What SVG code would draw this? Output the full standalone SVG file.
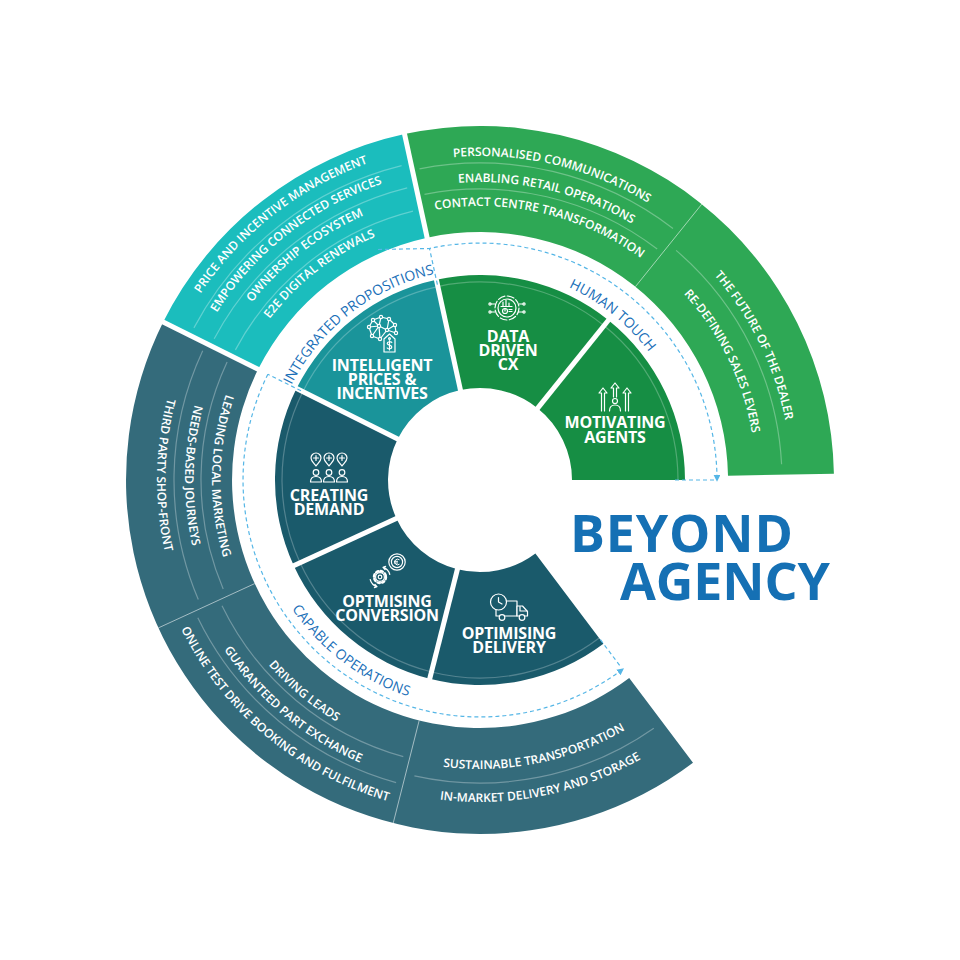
<svg xmlns="http://www.w3.org/2000/svg" width="960" height="960" viewBox="0 0 960 960">
<defs>
<style>
.ot{font-family:"Open Sans","Liberation Sans",sans-serif;font-size:12px;font-weight:600;fill:#fff;}
.il{font-family:"Open Sans","Liberation Sans",sans-serif;font-size:16px;font-weight:700;fill:#fff;text-anchor:middle;letter-spacing:-0.2px;}
.lb{font-family:"Open Sans","Liberation Sans",sans-serif;font-size:14px;font-weight:400;fill:#1a6fb8;}
.sep{fill:none;stroke:#fff;stroke-opacity:.3;stroke-width:1.2;}
.div{stroke:#fff;stroke-opacity:.55;stroke-width:1;}
.gap{stroke:#fff;stroke-width:5;}
.ic{fill:none;stroke:#fff;stroke-width:1.2;stroke-linecap:round;stroke-linejoin:round;}
.dash{fill:none;stroke:#55b6e6;stroke-width:1.2;stroke-dasharray:4 3;}
.big{font-family:"Open Sans","Liberation Sans",sans-serif;font-size:52px;font-weight:700;fill:#1570b4;}
</style>
<marker id="ah" viewBox="0 0 8 8" refX="6" refY="4" markerWidth="7" markerHeight="7" markerUnits="userSpaceOnUse" orient="auto"><path d="M0,0 L8,4 L0,8 z" fill="#55b6e6"/></marker>
<path id="g1" d="M 411.0 163.5 A 324 324 0 0 1 683.0 227.5"/>
<path id="g2" d="M 416.5 188.9 A 298 298 0 0 1 666.7 247.8"/>
<path id="g3" d="M 421.6 212.3 A 274 274 0 0 1 651.7 266.5"/>
<path id="t1" d="M 179.3 330.1 A 336 336 0 0 1 408.4 151.7"/>
<path id="t2" d="M 200.8 340.8 A 312 312 0 0 1 413.5 175.2"/>
<path id="t3" d="M 221.4 351.1 A 289 289 0 0 1 418.4 197.6"/>
<path id="t4" d="M 242.9 361.8 A 265 265 0 0 1 423.6 221.1"/>
<path id="r1" d="M 674.9 237.6 A 311 311 0 0 1 791.0 474.6"/>
<path id="r2" d="M 652.9 264.9 A 276 276 0 0 1 756.0 475.2"/>
<path id="l1" d="M 240.2 360.4 A 268 268 0 0 0 236.5 592.0"/>
<path id="l2" d="M 216.0 348.4 A 295 295 0 0 0 212.0 603.3"/>
<path id="l3" d="M 190.9 335.9 A 323 323 0 0 0 186.5 615.0"/>
<path id="b1" d="M 224.7 597.4 A 281 281 0 0 0 411.1 752.4"/>
<path id="b2" d="M 201.1 608.3 A 307 307 0 0 0 404.7 777.6"/>
<path id="b3" d="M 176.6 619.6 A 334 334 0 0 0 398.1 803.8"/>
<path id="s1" d="M 409.1 760.2 A 289 289 0 0 0 653.9 710.8"/>
<path id="s2" d="M 401.0 792.2 A 322 322 0 0 0 673.8 737.1"/>
<path id="lbI" d="M 291.2 385.9 A 211 211 0 0 1 435.1 273.9"/>
<path id="lbH" d="M 527.7 273.4 A 212 212 0 0 1 671.5 389.1"/>
<path id="lbC" d="M 270.1 569.1 A 228 228 0 0 0 452.2 706.3"/>
</defs>
<rect width="960" height="960" fill="#fff"/>

<!-- outer ring -->
<g id="outer-dark">
<path d="M 693.0 762.7 A 354 354 0 0 1 163.2 322.0 L 258.1 369.3 A 248 248 0 0 0 629.2 678.1 Z" fill="#346b7b"/>
<line class="div" x1="419.2" y1="720.4" x2="393.2" y2="823.2"/>
<line class="div" x1="254.7" y1="583.6" x2="158.4" y2="627.9"/>
<path class="sep" d="M 227.1 362.1 A 279 279 0 0 0 223.2 589.0"/>
<path class="sep" d="M 202.7 350.7 A 306 306 0 0 0 198.3 599.6"/>
<path class="sep" d="M 222.0 605.8 A 287 287 0 0 0 403.3 756.6"/>
<path class="sep" d="M 197.8 617.7 A 314 314 0 0 0 396.1 782.6"/>
<path class="sep" d="M 414.4 775.8 A 303 303 0 0 0 653.8 728.2"/>
<text class="ot" text-anchor="middle"><textPath href="#l1" startOffset="50%">LEADING LOCAL MARKETING</textPath></text>
<text class="ot" text-anchor="middle"><textPath href="#l2" startOffset="50%">NEEDS-BASED JOURNEYS</textPath></text>
<text class="ot" text-anchor="middle"><textPath href="#l3" startOffset="50%">THIRD PARTY SHOP-FRONT</textPath></text>
<text class="ot" text-anchor="middle"><textPath href="#b1" startOffset="50%">DRIVING LEADS</textPath></text>
<text class="ot" text-anchor="middle"><textPath href="#b2" startOffset="50%">GUARANTEED PART EXCHANGE</textPath></text>
<text class="ot" text-anchor="middle"><textPath href="#b3" startOffset="50%">ONLINE TEST DRIVE BOOKING AND FULFILMENT</textPath></text>
<text class="ot" text-anchor="middle"><textPath href="#s1" startOffset="50%">SUSTAINABLE TRANSPORTATION</textPath></text>
<text class="ot" text-anchor="middle"><textPath href="#s2" startOffset="50%">IN-MARKET DELIVERY AND STORAGE</textPath></text>
</g>
<g id="outer-light">
<path d="M 163.2 322.0 A 354 354 0 0 1 404.6 134.1 L 427.2 237.7 A 248 248 0 0 0 258.1 369.3 Z" fill="#1bbdbd"/>
<path class="sep" d="M 193.9 327.9 A 324 324 0 0 1 401.6 165.6"/>
<path class="sep" d="M 214.2 338.7 A 301 301 0 0 1 407.2 187.9"/>
<path class="sep" d="M 235.4 349.9 A 277 277 0 0 1 413.0 211.2"/>
<text class="ot" text-anchor="middle"><textPath href="#t1" startOffset="50%">PRICE AND INCENTIVE MANAGEMENT</textPath></text>
<text class="ot" text-anchor="middle"><textPath href="#t2" startOffset="50%">EMPOWERING CONNECTED SERVICES</textPath></text>
<text class="ot" text-anchor="middle"><textPath href="#t3" startOffset="50%">OWNERSHIP ECOSYSTEM</textPath></text>
<text class="ot" text-anchor="middle"><textPath href="#t4" startOffset="50%">E2E DIGITAL RENEWALS</textPath></text>
</g>
<g id="outer-green">
<path d="M 404.6 134.1 A 354 354 0 0 1 833.9 473.8 L 728 475.7 A 248 248 0 0 0 427.2 237.7 Z" fill="#2ea855"/>
<line class="div" x1="635.4" y1="286.7" x2="701.8" y2="204.1"/>
<path class="sep" d="M 419.5 168.8 A 317 317 0 0 1 673.0 228.5"/>
<path class="sep" d="M 424.5 194.4 A 291 291 0 0 1 657.2 249.1"/>
<path class="sep" d="M 676.1 250.4 A 302 302 0 0 1 781.6 464.2"/>
<text class="ot" text-anchor="middle"><textPath href="#g1" startOffset="50%">PERSONALISED COMMUNICATIONS</textPath></text>
<text class="ot" text-anchor="middle"><textPath href="#g2" startOffset="50%">ENABLING RETAIL OPERATIONS</textPath></text>
<text class="ot" text-anchor="middle"><textPath href="#g3" startOffset="50%">CONTACT CENTRE TRANSFORMATION</textPath></text>
<text class="ot" text-anchor="middle"><textPath href="#r1" startOffset="50%">THE FUTURE OF THE DEALER</textPath></text>
<text class="ot" text-anchor="middle"><textPath href="#r2" startOffset="50%">RE-DEFINING SALES LEVERS</textPath></text>
</g>
<g id="outer-gaps">
<line class="gap" x1="261.6" y1="371.1" x2="159.6" y2="320.3"/>
<line class="gap" x1="428.0" y1="241.6" x2="403.7" y2="130.2"/>
</g>

<!-- inner segments -->
<g id="delivery">
<path d="M 603.4 643.7 A 205 205 0 0 1 429.7 678.7 L 457.4 569.2 A 92 92 0 0 0 535.4 553.5 Z" fill="#1a5a6b"/>
</g>
<g id="conversion">
<path d="M 429.7 678.7 A 205 205 0 0 1 293.8 565.7 L 396.4 518.4 A 92 92 0 0 0 457.4 569.2 Z" fill="#1a5a6b"/>
</g>
<g id="creating">
<path d="M 293.8 565.7 A 205 205 0 0 1 296.5 388.5 L 397.7 439.0 A 92 92 0 0 0 396.4 518.4 Z" fill="#1a5a6b"/>
</g>
<g id="intelligent">
<path d="M 296.5 388.5 A 205 205 0 0 1 436.3 279.7 L 460.4 390.1 A 92 92 0 0 0 397.7 439.0 Z" fill="#1a949a"/>
</g>
<g id="datadriven">
<path d="M 436.3 279.7 A 205 205 0 0 1 608.5 320.2 L 537.6 408.3 A 92 92 0 0 0 460.4 390.1 Z" fill="#168e44"/>
</g>
<g id="motivating">
<path d="M 608.5 320.2 A 205 205 0 0 1 685 480 L 572 480 A 92 92 0 0 0 537.6 408.3 Z" fill="#168e44"/>
</g>
<path d="M 599.2 638.1 A 198 198 0 1 1 678 480" fill="none" stroke="#fff" stroke-opacity=".25" stroke-width="1.2"/>
<g id="inner-gaps">
<line class="gap" x1="458.4" y1="565.3" x2="428.5" y2="683.6"/>
<line class="gap" x1="400.1" y1="516.8" x2="289.2" y2="567.8"/>
<line class="gap" x1="401.2" y1="440.7" x2="292.1" y2="386.3"/>
<line class="gap" x1="461.3" y1="394.0" x2="435.3" y2="274.8"/>
<line class="gap" x1="535.1" y1="411.4" x2="611.6" y2="316.3"/>
</g>

<!-- inner labels and icons -->
<g id="intelligent-label">
<g class="ic" stroke-width="1">
<path d="M369 327 L373 320 L381 317 L389 319 L395 325 L396 333 M369 327 L372 336 L380 339 L387 330 L395 325 M369 327 L379 326 L373 320 M381 317 L379 326 L387 330 L389 319 M379 326 L380 339 M372 336 L379 326 M387 330 L396 333"/>
<circle cx="369" cy="327" r="1.6" fill="#1a949a"/><circle cx="373" cy="320" r="1.6" fill="#1a949a"/><circle cx="381" cy="317" r="1.6" fill="#1a949a"/><circle cx="389" cy="319" r="1.6" fill="#1a949a"/><circle cx="395" cy="325" r="1.6" fill="#1a949a"/><circle cx="396" cy="333" r="1.6" fill="#1a949a"/><circle cx="380" cy="339" r="1.6" fill="#1a949a"/><circle cx="372" cy="336" r="1.6" fill="#1a949a"/><circle cx="379" cy="326" r="1.6" fill="#1a949a"/><circle cx="387" cy="330" r="1.6" fill="#1a949a"/>
<path d="M 384 339 L 389.5 334 L 395 339 L 395 352 L 384 352 Z" fill="#1a949a"/>
<circle cx="389.5" cy="338.5" r="0.9"/>
<path d="M 391.8 342.5 C 391 341.3 387.2 341.3 387.2 343.5 C 387.2 345.5 391.8 344.8 391.8 347 C 391.8 349.2 388 349.2 387.2 348 M 389.5 340.6 V 350"/>
</g>
<text class="il" x="382" y="371">INTELLIGENT</text>
<text class="il" x="382" y="385">PRICES &amp;</text>
<text class="il" x="382" y="399">INCENTIVES</text>
</g>
<g id="datadriven-label">
<g class="ic" stroke-width="1.1">
<circle cx="507" cy="308" r="9"/>
<circle cx="507" cy="308" r="12" stroke-dasharray="7 2.4"/>
<path d="M495 304 H491 M495 312 H491 M519 304 H523 M519 312 H523"/>
<circle cx="490" cy="304" r="1.1"/><circle cx="490" cy="312" r="1.1"/><circle cx="524" cy="304" r="1.1"/><circle cx="524" cy="312" r="1.1"/>
<path d="M503 306 V302 M506 306 V300 M509 306 V303 M501 306.5 H512"/>
<circle cx="505" cy="311" r="2.5"/>
<path d="M505 311 V308.5 M509 309.5 H512 M509 311.5 H512"/>
</g>
<text class="il" x="508" y="342">DATA</text>
<text class="il" x="508" y="356">DRIVEN</text>
<text class="il" x="508" y="370">CX</text>
</g>
<g id="motivating-label">
<g class="ic">
<path d="M601.5 411 V393 H599 L603 388 L607 393 H604.5 V411"/>
<path d="M625.5 411 V393 H623 L627 388 L631 393 H628.5 V411"/>
<path d="M613.5 397 V388 H611 L615 383 L619 388 H616.5 V397"/>
<circle cx="615" cy="401" r="2.5"/>
<path d="M609.5 411 Q609.5 405 615 405 Q620.5 405 620.5 411"/>
</g>
<text class="il" x="615" y="428">MOTIVATING</text>
<text class="il" x="615" y="442.5">AGENTS</text>
</g>
<g id="creating-label">
<g class="ic">
<path d="M311 458 a5 5 0 1 1 10 0 c0 3 -3 5 -5 8 c-2 -3 -5 -5 -5 -8 z M313.5 458 H318.5 M316 455.5 V460.5"/>
<path d="M324 458 a5 5 0 1 1 10 0 c0 3 -3 5 -5 8 c-2 -3 -5 -5 -5 -8 z M326.5 458 H331.5 M329 455.5 V460.5"/>
<path d="M337 458 a5 5 0 1 1 10 0 c0 3 -3 5 -5 8 c-2 -3 -5 -5 -5 -8 z M339.5 458 H344.5 M342 455.5 V460.5"/>
<circle cx="316" cy="472.5" r="2.8"/><path d="M310.5 482 Q310.5 476.5 316 476.5 Q321.5 476.5 321.5 482 Z"/>
<circle cx="329" cy="472.5" r="2.8"/><path d="M323.5 482 Q323.5 476.5 329 476.5 Q334.5 476.5 334.5 482 Z"/>
<circle cx="342" cy="472.5" r="2.8"/><path d="M336.5 482 Q336.5 476.5 342 476.5 Q347.5 476.5 347.5 482 Z"/>
</g>
<text class="il" x="329" y="501">CREATING</text>
<text class="il" x="329" y="515">DEMAND</text>
</g>
<g id="conversion-label">
<g class="ic">
<circle cx="380" cy="577" r="6" stroke-width="2.4" stroke-dasharray="2.3 2.4"/>
<circle cx="380" cy="577" r="4.4"/>
<circle cx="380" cy="577" r="1.8"/>
<path d="M370.2 579.5 A10 10 0 0 0 377 586.6 M375 584.5 L377 586.6 L374.4 587.6"/>
<path d="M389.8 574.5 A10 10 0 0 0 383 567.4 M385 569.5 L383 567.4 L385.6 566.4"/>
<circle cx="397" cy="562" r="8.2" fill="#1a5a6b"/>
<circle cx="397" cy="562" r="5.6"/>
<path d="M399.2 559.6 A2.9 2.9 0 1 0 399.2 564.4 M394.3 561.3 H397.6 M394.3 563 H397.6" stroke-width="1"/>
</g>
<text class="il" x="387" y="607">OPTMISING</text>
<text class="il" x="387" y="621">CONVERSION</text>
</g>
<g id="delivery-label">
<g class="ic">
<rect x="496" y="601" width="21" height="15" fill="#1a5a6b"/>
<path d="M517 606 H522.5 L527.5 611.5 V616 H517 Z" fill="#1a5a6b"/>
<path d="M520 606.5 V611 H527"/>
<circle cx="498.5" cy="602" r="8" fill="#1a5a6b"/>
<path d="M498.5 597.5 V602 L502 604"/>
<circle cx="502" cy="617.5" r="2.8" fill="#1a5a6b"/>
<circle cx="522" cy="617.5" r="2.8" fill="#1a5a6b"/>
</g>
<text class="il" x="509" y="639">OPTIMISING</text>
<text class="il" x="509" y="653">DELIVERY</text>
</g>

<!-- connectors: dashed brackets -->
<g id="connectors">
<path class="dash" d="M 267.9 374.3 A 237 237 0 0 0 622.6 669.3" marker-end="url(#ah)"/>
<path class="dash" d="M 378 249.5 L 429.5 248.5 A 237 237 0 0 1 717 480" marker-end="url(#ah)"/>
<path class="dash" d="M 301.0 390.8 L 267.9 374.3"/>
<path class="dash" d="M 437.4 284.6 L 429.5 248.5"/>
<path class="dash" d="M 675 480 L 715 480"/>
<path class="dash" d="M 600.4 639.7 L 620.6 666.6"/>
</g>

<g id="pillar-labels">
<text class="lb" text-anchor="middle"><textPath href="#lbI" startOffset="50%">INTEGRATED PROPOSITIONS</textPath></text>
<text class="lb" text-anchor="middle"><textPath href="#lbH" startOffset="50%">HUMAN TOUCH</textPath></text>
<text class="lb" text-anchor="middle"><textPath href="#lbC" startOffset="50%">CAPABLE OPERATIONS</textPath></text>
</g>

<g id="title">
<text class="big" x="570" y="552" textLength="223" lengthAdjust="spacing">BEYOND</text>
<text class="big" x="620" y="600" textLength="210" lengthAdjust="spacing">AGENCY</text>
</g>
</svg>
